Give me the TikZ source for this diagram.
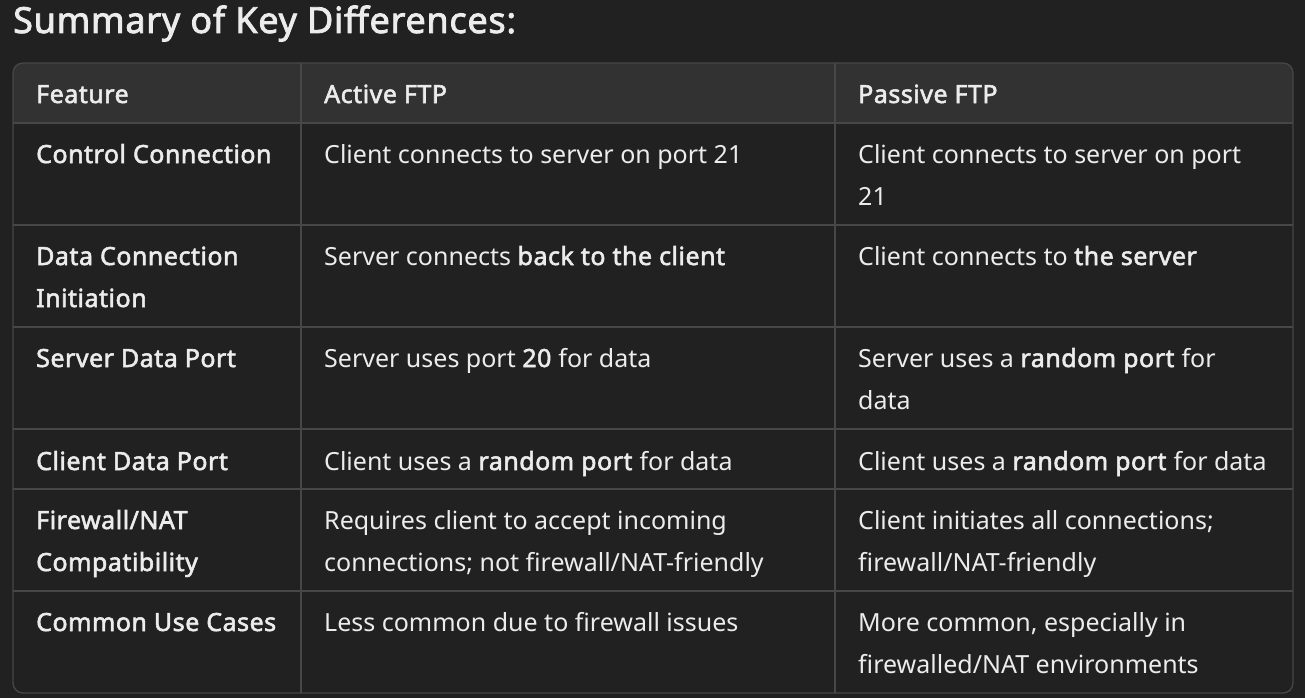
\documentclass[tikz,border=0pt]{standalone}
\usepackage{fontspec}
\setmainfont{Noto Sans}[BoldFont={Noto Sans}, BoldFeatures={FakeBold=2.2, LetterSpace=2}]
\definecolor{pagebg}{HTML}{212121}
\definecolor{headbg}{HTML}{323232}
\definecolor{gridline}{HTML}{474747}
\definecolor{ink}{HTML}{ECECEC}
\tikzset{
  cell/.style={anchor=base west, inner sep=0pt, align=left, text=ink,
    font=\fontsize{25}{42}\selectfont},
  headcell/.style={cell, font=\fontsize{25}{42}\selectfont\bfseries},
  twoline/.style={yshift=-42pt},
  grid/.style={draw=gridline, line width=1.3pt},
}
\begin{document}
\begin{tikzpicture}[x=1pt, y=-1pt]
  \def \colA {36}
  \def \colB {324}
  \def \colC {858}

  \fill[pagebg] (0,0) rectangle (1305,698);

  \node[anchor=base west, inner sep=0pt, text=ink,
    font=\fontsize{36}{40}\selectfont\bfseries] (title) at (13,33) {Summary of Key Differences:};

  % header band
  \begin{scope}
    \clip[rounded corners=10pt] (13,63) rectangle (1293,693);
    \fill[headbg] (13,63) rectangle (1293,123);
  \end{scope}

  % grid
  \foreach \y in {123,225,327,429,489,591}
    \draw[grid] (13,\y) -- (1293,\y);
  \draw[grid] (301,63) -- (301,693);
  \draw[grid] (835,63) -- (835,693);
  \draw[grid, rounded corners=10pt] (13,63) rectangle (1293,693);

  % header
  \node[headcell] (feature) at (\colA,103) {Feature};
  \node[headcell] (active) at (\colB,103) {Active FTP};
  \node[headcell] (passive) at (\colC,103) {Passive FTP};

  % rows
  \node[headcell] (ctrlF) at (\colA,163) {Control Connection};
  \node[cell] (ctrlA) at (\colB,163) {Client connects to server on port 21};
  \node[cell, twoline] (ctrlP) at (\colC,163) {Client connects to server on port\\21};

  \node[headcell, twoline] (dataF) at (\colA,265) {Data Connection\\Initiation};
  \node[cell] (dataA) at (\colB,265) {Server connects \textbf{back to the client}};
  \node[cell] (dataP) at (\colC,265) {Client connects to \textbf{the server}};

  \node[headcell] (srvF) at (\colA,367) {Server Data Port};
  \node[cell] (srvA) at (\colB,367) {Server uses port \textbf{20} for data};
  \node[cell, twoline] (srvP) at (\colC,367) {Server uses a \textbf{random port} for\\data};

  \node[headcell] (cliF) at (\colA,470) {Client Data Port};
  \node[cell] (cliA) at (\colB,470) {Client uses a \textbf{random port} for data};
  \node[cell] (cliP) at (\colC,470) {Client uses a \textbf{random port} for data};

  \node[headcell, twoline] (fwF) at (\colA,529) {Firewall/NAT\\Compatibility};
  \node[cell, twoline] (fwA) at (\colB,529) {Requires client to accept incoming\\connections; not firewall/NAT-friendly};
  \node[cell, twoline] (fwP) at (\colC,529) {Client initiates all connections;\\firewall/NAT-friendly};

  \node[headcell] (useF) at (\colA,631) {Common Use Cases};
  \node[cell] (useA) at (\colB,631) {Less common due to firewall issues};
  \node[cell, twoline] (useP) at (\colC,631) {More common, especially in\\firewalled/NAT environments};
\end{tikzpicture}
\end{document}
